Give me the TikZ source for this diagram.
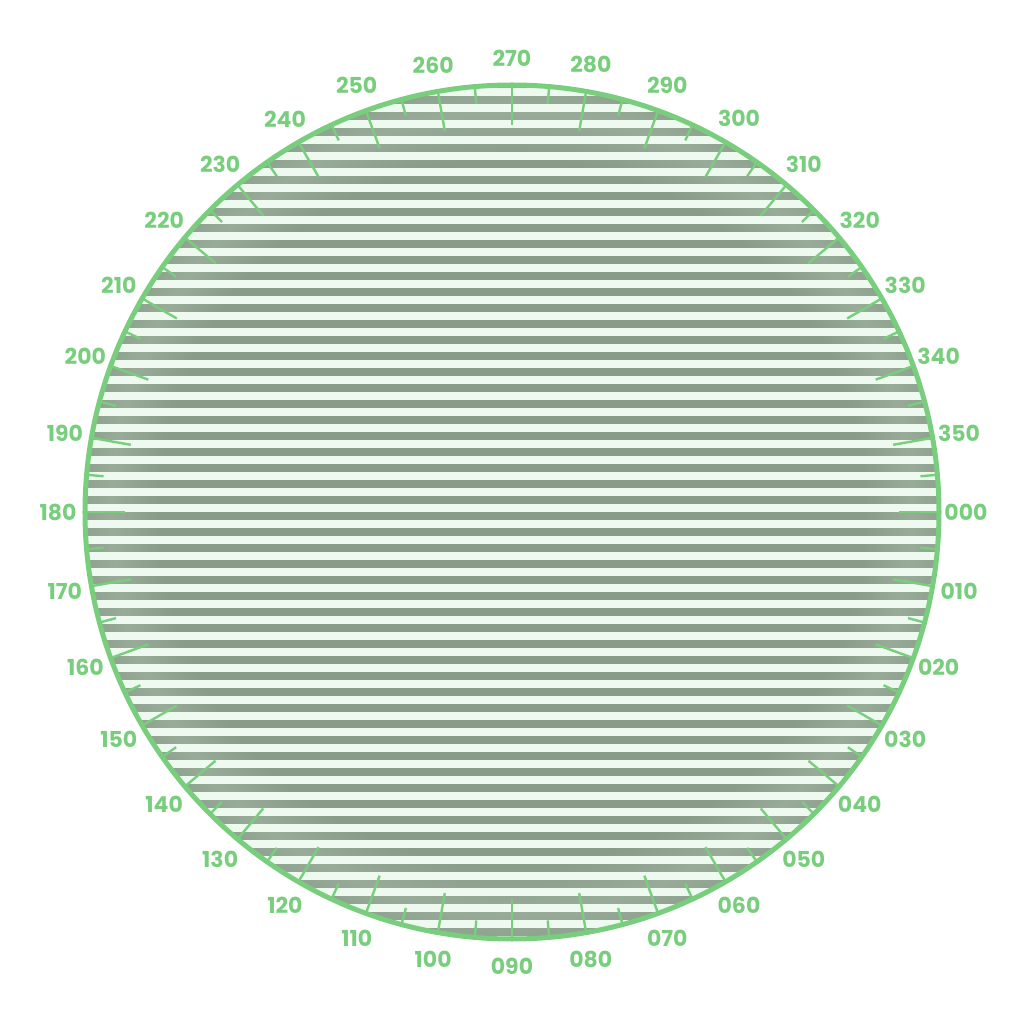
\documentclass[tikz,border=0pt]{standalone}
\usepackage{fontspec}
\setmainfont{Poppins}
\usetikzlibrary{calc}
\definecolor{ringgreen}{HTML}{79CE7E}
\definecolor{stripedark}{HTML}{899C89}
\definecolor{stripelight}{HTML}{EEF9EF}

\begin{document}
\begin{tikzpicture}[x=1pt, y=1pt,
    longtick/.style={ringgreen, line width=2.4pt},
    shorttick/.style={ringgreen, line width=2.4pt},
    bearing/.style={font=\fontsize{22}{22}\selectfont\bfseries, text=ringgreen, inner sep=0pt}]
  \useasboundingbox (-512,-512) rectangle (512,512);
  \coordinate (c) at (0,0);
  % striped face
  \begin{scope}
    \clip (c) circle (427);
    \fill[stripelight] (c) circle (427);
    \foreach \k in {0,...,63}
      \fill[stripedark] (-512,504-16*\k) rectangle (512,512-16*\k);
    \foreach \w in {6,12,...,90}
      \draw[white, opacity=.015, line width=\w] (c) circle (400);
  \end{scope}
  % ticks every 5 degrees
  \foreach \a in {0,10,...,350}
    \draw[longtick] (-\a:427) -- (-\a:387);
  \foreach \a in {5,15,...,355}
    \draw[shorttick] (-\a:427) -- (-\a:410);
  \draw[ringgreen, line width=5pt] (c) circle (427);
  % bearings, clockwise from east
  \foreach \a in {0,10,...,350}
    \node[bearing] (b\a) at (-\a:454)
      {\ifnum\a<10 00\a\else\ifnum\a<100 0\a\else\a\fi\fi};
\end{tikzpicture}
\end{document}
